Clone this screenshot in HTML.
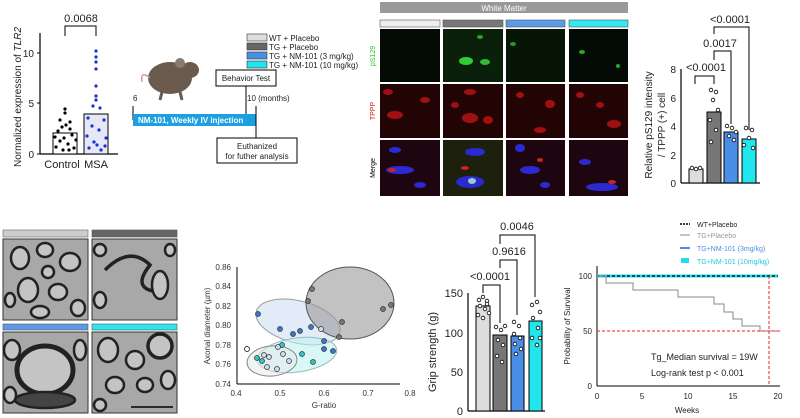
<!DOCTYPE html>
<html><head><meta charset="utf-8"><style>
body{margin:0;background:#fff;}
svg{display:block;font-family:"Liberation Sans",sans-serif;}
</style></head><body>
<svg width="800" height="418" viewBox="0 0 800 418" xmlns="http://www.w3.org/2000/svg">
<!-- Panel 1 TLR2 -->
<g font-size="10" fill="#222">
<line x1="40" y1="33" x2="40" y2="154" stroke="#000" stroke-width="1.2"/>
<line x1="40" y1="154" x2="118" y2="154" stroke="#000" stroke-width="1.2"/>
<line x1="37" y1="154" x2="40" y2="154" stroke="#000"/><line x1="37" y1="103" x2="40" y2="103" stroke="#000"/><line x1="37" y1="53" x2="40" y2="53" stroke="#000"/>
<text x="34" y="158" text-anchor="end">0</text><text x="34" y="107" text-anchor="end">5</text><text x="34" y="57" text-anchor="end">10</text>
<rect x="53" y="133" width="24" height="21" fill="#fff" stroke="#000"/>
<rect x="84" y="114" width="24" height="40" fill="#e6e8f8" stroke="#000"/>
<g fill="#000">
<circle cx="56" cy="147" r="1.6"/><circle cx="60" cy="141" r="1.6"/><circle cx="64" cy="138" r="1.6"/><circle cx="68" cy="144" r="1.6"/><circle cx="72" cy="135" r="1.6"/><circle cx="58" cy="131" r="1.6"/><circle cx="62" cy="127" r="1.6"/><circle cx="66" cy="125" r="1.6"/><circle cx="70" cy="129" r="1.6"/><circle cx="74" cy="148" r="1.6"/><circle cx="65" cy="109" r="1.6"/><circle cx="65" cy="113" r="1.6"/><circle cx="60" cy="120" r="1.6"/><circle cx="70" cy="122" r="1.6"/><circle cx="55" cy="137" r="1.6"/><circle cx="76" cy="140" r="1.6"/><circle cx="63" cy="150" r="1.6"/><circle cx="69" cy="150" r="1.6"/></g>
<g fill="#1a2fd6">
<circle cx="96" cy="51" r="1.6"/><circle cx="96" cy="57" r="1.6"/><circle cx="96" cy="62" r="1.6"/><circle cx="96" cy="69" r="1.6"/><circle cx="96" cy="86" r="1.6"/><circle cx="96" cy="96" r="1.6"/><circle cx="96" cy="100" r="1.6"/><circle cx="93" cy="106" r="1.6"/><circle cx="100" cy="108" r="1.6"/><circle cx="88" cy="118" r="1.6"/><circle cx="104" cy="120" r="1.6"/><circle cx="92" cy="126" r="1.6"/><circle cx="99" cy="130" r="1.6"/><circle cx="87" cy="136" r="1.6"/><circle cx="106" cy="138" r="1.6"/><circle cx="94" cy="142" r="1.6"/><circle cx="89" cy="148" r="1.6"/><circle cx="101" cy="150" r="1.6"/><circle cx="97" cy="145" r="1.6"/><circle cx="105" cy="146" r="1.6"/></g>
<polyline points="65,36 65,26 96,26 96,36" fill="none" stroke="#000"/>
<text x="81" y="22" text-anchor="middle" font-size="11">0.0068</text>
<text x="62" y="168" text-anchor="middle" font-size="11">Control</text>
<text x="96" y="168" text-anchor="middle" font-size="11">MSA</text>
<text transform="translate(21,97) rotate(-90)" text-anchor="middle" font-size="10">Normalized expression of <tspan font-style="italic">TLR2</tspan></text>
</g>
<!-- Timeline -->
<g font-size="8" fill="#222">
<ellipse cx="170" cy="78" rx="22" ry="16" fill="#6b5a4e"/>
<ellipse cx="190" cy="70" rx="9" ry="8" fill="#6b5a4e"/>
<circle cx="180" cy="63" r="5" fill="#8b7a6e"/>
<path d="M150,78 Q140,70 142,82" stroke="#c99" fill="none" stroke-width="1.5"/>
<line x1="162" y1="92" x2="160" y2="100" stroke="#6b5a4e" stroke-width="3"/><line x1="180" y1="92" x2="182" y2="100" stroke="#6b5a4e" stroke-width="3"/>
<rect x="247" y="34" width="20" height="7" fill="#ddd" stroke="#333" stroke-width=".6"/>
<rect x="247" y="43" width="20" height="7" fill="#666" stroke="#333" stroke-width=".6"/>
<rect x="247" y="52" width="20" height="7" fill="#4a90e2" stroke="#333" stroke-width=".6"/>
<rect x="247" y="61" width="20" height="7" fill="#22e3ee" stroke="#333" stroke-width=".6"/>
<text x="269" y="41">WT + Placebo</text><text x="269" y="50">TG + Placebo</text><text x="269" y="59">TG + NM-101 (3 mg/kg)</text><text x="269" y="68">TG + NM-101 (10 mg/kg)</text>
<rect x="216" y="70" width="60" height="16" fill="#fff" stroke="#000"/>
<text x="246" y="81" text-anchor="middle">Behavior Test</text>
<line x1="246" y1="86" x2="246" y2="114" stroke="#000"/>
<line x1="133" y1="106" x2="133" y2="120" stroke="#000"/>
<rect x="133" y="114" width="123" height="12" fill="#1ca0e0"/>
<text x="138" y="123" fill="#fff" font-weight="bold">NM-101, Weekly IV injection</text>
<line x1="256" y1="106" x2="256" y2="138" stroke="#000"/>
<text x="133" y="101">6</text><text x="247" y="101">10 (months)</text>
<rect x="217" y="138" width="80" height="25" fill="#fff" stroke="#000"/>
<text x="257" y="149" text-anchor="middle">Euthanized</text><text x="257" y="159" text-anchor="middle">for futher analysis</text>
</g>
<!-- Microscopy -->
<g>
<rect x="380" y="2" width="248" height="11" fill="#999"/>
<text x="504" y="11" text-anchor="middle" font-size="8" fill="#fff">White Matter</text>
<rect x="380" y="20" width="60" height="7" fill="#eee" stroke="#555" stroke-width=".6"/>
<rect x="443" y="20" width="60" height="7" fill="#777" stroke="#555" stroke-width=".6"/>
<rect x="506" y="20" width="59" height="7" fill="#5a9ae6" stroke="#555" stroke-width=".6"/>
<rect x="569" y="20" width="59" height="7" fill="#33e8ee" stroke="#555" stroke-width=".6"/>
<g fill="#040a04"><rect x="380" y="29" width="60" height="53"/><rect x="443" y="29" width="60" height="53" fill="#0a200a"/><rect x="506" y="29" width="59" height="53" fill="#071507"/><rect x="569" y="29" width="59" height="53"/></g>
<ellipse cx="466" cy="61" rx="7" ry="4" fill="#3c3"/><ellipse cx="485" cy="62" rx="5" ry="3" fill="#3b3"/><ellipse cx="480" cy="37" rx="3" ry="2" fill="#2a2"/>
<ellipse cx="513" cy="44" rx="3" ry="2" fill="#292"/><ellipse cx="582" cy="52" rx="3" ry="2" fill="#2a2"/><ellipse cx="618" cy="66" rx="2" ry="2" fill="#2a2"/>
<g fill="#220404"><rect x="380" y="84" width="60" height="54"/><rect x="443" y="84" width="60" height="54"/><rect x="506" y="84" width="59" height="54"/><rect x="569" y="84" width="59" height="54"/></g>
<g fill="#a01010"><ellipse cx="395" cy="115" rx="8" ry="4"/><ellipse cx="388" cy="92" rx="5" ry="3"/><ellipse cx="425" cy="100" rx="5" ry="3"/><ellipse cx="470" cy="118" rx="8" ry="5"/><ellipse cx="488" cy="120" rx="5" ry="4"/><ellipse cx="470" cy="92" rx="6" ry="3"/><ellipse cx="455" cy="105" rx="4" ry="3"/><ellipse cx="550" cy="104" rx="5" ry="4"/><ellipse cx="540" cy="130" rx="6" ry="3"/><ellipse cx="520" cy="95" rx="4" ry="3"/><ellipse cx="614" cy="124" rx="7" ry="4"/><ellipse cx="600" cy="105" rx="4" ry="3"/><ellipse cx="580" cy="95" rx="4" ry="3"/></g>
<g fill="#1e0610"><rect x="380" y="140" width="60" height="56"/><rect x="443" y="140" width="60" height="56" fill="#1d200c"/><rect x="506" y="140" width="59" height="56"/><rect x="569" y="140" width="59" height="56"/></g>
<g fill="#2a2ad0"><ellipse cx="400" cy="170" rx="14" ry="4"/><ellipse cx="395" cy="150" rx="6" ry="3"/><ellipse cx="420" cy="185" rx="6" ry="3"/><ellipse cx="470" cy="182" rx="14" ry="6"/><ellipse cx="475" cy="152" rx="10" ry="4"/><ellipse cx="530" cy="170" rx="10" ry="4"/><ellipse cx="520" cy="148" rx="5" ry="4"/><ellipse cx="545" cy="185" rx="5" ry="3"/><ellipse cx="602" cy="187" rx="16" ry="4"/><ellipse cx="585" cy="162" rx="6" ry="3"/></g>
<g fill="#c22"><ellipse cx="392" cy="170" rx="4" ry="2"/><ellipse cx="465" cy="168" rx="4" ry="2"/><ellipse cx="540" cy="160" rx="3" ry="2"/><ellipse cx="612" cy="182" rx="4" ry="2"/></g>
<ellipse cx="472" cy="181" rx="4" ry="3" fill="#9cc"/>
<text transform="translate(375,56) rotate(-90)" text-anchor="middle" font-size="7" fill="#2c2">pS129</text>
<text transform="translate(375,111) rotate(-90)" text-anchor="middle" font-size="7" fill="#d22">TPPP</text>
<text transform="translate(375,168) rotate(-90)" text-anchor="middle" font-size="7" fill="#000">Merge</text>
</g>
<!-- pS129 chart -->
<g font-size="10" fill="#222">
<line x1="681" y1="69" x2="681" y2="183" stroke="#000" stroke-width="1.2"/>
<line x1="681" y1="183" x2="760" y2="183" stroke="#000" stroke-width="1.2"/>
<text x="676" y="187" text-anchor="end">0</text><text x="676" y="159" text-anchor="end">2</text><text x="676" y="130" text-anchor="end">4</text><text x="676" y="102" text-anchor="end">6</text><text x="676" y="73" text-anchor="end">8</text>
<rect x="689" y="169" width="14" height="14" fill="#ddd" stroke="#000"/>
<rect x="707" y="112" width="14" height="71" fill="#777" stroke="#000"/>
<rect x="724" y="132" width="14" height="51" fill="#4a8ee8" stroke="#000"/>
<rect x="742" y="139" width="14" height="44" fill="#22e6ee" stroke="#000"/>
<g fill="#fff" stroke="#000" stroke-width=".8"><circle cx="692" cy="168" r="1.8"/><circle cx="696" cy="169" r="1.8"/><circle cx="700" cy="168" r="1.8"/><circle cx="711" cy="90" r="1.8"/><circle cx="716" cy="92" r="1.8"/><circle cx="713" cy="100" r="1.8"/><circle cx="718" cy="110" r="1.8"/><circle cx="710" cy="120" r="1.8"/><circle cx="716" cy="130" r="1.8"/><circle cx="711" cy="142" r="1.8"/><circle cx="727" cy="126" r="1.8"/><circle cx="732" cy="128" r="1.8"/><circle cx="736" cy="132" r="1.8"/><circle cx="729" cy="136" r="1.8"/><circle cx="734" cy="140" r="1.8"/><circle cx="746" cy="128" r="1.8"/><circle cx="752" cy="130" r="1.8"/><circle cx="749" cy="138" r="1.8"/><circle cx="744" cy="145" r="1.8"/><circle cx="753" cy="148" r="1.8"/></g>
<polyline points="695,84 695,76 714,76 714,84" fill="none" stroke="#000"/>
<text x="706" y="71" text-anchor="middle" font-size="11">&lt;0.0001</text>
<polyline points="714,60 714,51 731,51 731,124" fill="none" stroke="#000"/>
<text x="720" y="47" text-anchor="middle" font-size="11">0.0017</text>
<polyline points="714,34 714,27 749,27 749,130" fill="none" stroke="#000"/>
<text x="730" y="23" text-anchor="middle" font-size="11">&lt;0.0001</text>
<text transform="translate(652,125) rotate(-90)" text-anchor="middle" font-size="10">Relative pS129 intensity</text>
<text transform="translate(665,125) rotate(-90)" text-anchor="middle" font-size="10">/ TPPP (+) cell</text>
</g>
<!-- EM images -->
<g>
<rect x="3" y="230" width="85" height="7" fill="#ccc" stroke="#666" stroke-width=".6"/>
<rect x="92" y="230" width="85" height="7" fill="#666" stroke="#555" stroke-width=".6"/>
<rect x="3" y="324" width="85" height="6" fill="#5a9ae6" stroke="#555" stroke-width=".6"/>
<rect x="92" y="324" width="85" height="6" fill="#2ee4ee" stroke="#555" stroke-width=".6"/>
<g fill="#a8a8a8" stroke="#333" stroke-width="1"><rect x="3" y="239" width="85" height="81"/><rect x="92" y="239" width="85" height="81"/><rect x="3" y="332" width="85" height="81"/><rect x="92" y="332" width="85" height="81"/></g>
<g fill="#c4c4c4" stroke="#222" stroke-width="2.5">
<ellipse cx="20" cy="258" rx="9" ry="11"/><ellipse cx="45" cy="250" rx="8" ry="7"/><ellipse cx="70" cy="262" rx="10" ry="9"/><ellipse cx="28" cy="290" rx="10" ry="12"/><ellipse cx="58" cy="292" rx="9" ry="8"/><ellipse cx="78" cy="308" rx="7" ry="8"/><ellipse cx="40" cy="312" rx="9" ry="6"/><ellipse cx="10" cy="300" rx="5" ry="7"/><ellipse cx="48" cy="272" rx="6" ry="6"/>
<path d="M105,270 Q130,245 150,265 Q130,290 160,292" stroke-width="3.5" fill="none"/><ellipse cx="160" cy="285" rx="8" ry="14"/><ellipse cx="100" cy="250" rx="6" ry="6"/><ellipse cx="100" cy="300" rx="6" ry="8"/><ellipse cx="170" cy="250" rx="5" ry="6"/>
<ellipse cx="45" cy="370" rx="28" ry="24" stroke-width="5"/><ellipse cx="45" cy="400" rx="30" ry="8" fill="#444"/><ellipse cx="12" cy="350" rx="8" ry="10"/><ellipse cx="80" cy="350" rx="6" ry="10"/><ellipse cx="10" cy="395" rx="6" ry="8"/>
<ellipse cx="108" cy="350" rx="10" ry="12"/><ellipse cx="135" cy="360" rx="9" ry="9"/><ellipse cx="160" cy="346" rx="12" ry="12" stroke-width="3.5"/><ellipse cx="115" cy="385" rx="9" ry="8"/><ellipse cx="145" cy="385" rx="8" ry="7"/><ellipse cx="168" cy="380" rx="7" ry="9"/><ellipse cx="100" cy="405" rx="6" ry="6"/>
</g>
<line x1="131" y1="407" x2="173" y2="407" stroke="#000" stroke-width="1.5"/>
</g>
<!-- Scatter -->
<g font-size="8" fill="#333">
<line x1="237" y1="267" x2="237" y2="384" stroke="#000"/>
<line x1="237" y1="384" x2="400" y2="384" stroke="#000"/>
<text x="231" y="270" text-anchor="end">0.86</text><text x="231" y="289" text-anchor="end">0.84</text><text x="231" y="309" text-anchor="end">0.82</text><text x="231" y="328" text-anchor="end">0.80</text><text x="231" y="348" text-anchor="end">0.78</text><text x="231" y="367" text-anchor="end">0.76</text><text x="231" y="387" text-anchor="end">0.74</text>
<text x="236" y="396" text-anchor="middle">0.4</text><text x="280" y="396" text-anchor="middle">0.5</text><text x="324" y="396" text-anchor="middle">0.6</text><text x="368" y="396" text-anchor="middle">0.7</text><text x="410" y="396" text-anchor="middle">0.8</text>
<text x="324" y="408" text-anchor="middle">G-ratio</text>
<text transform="translate(210,326) rotate(-90)" text-anchor="middle">Axonal diameter (µm)</text>
<ellipse cx="298" cy="322" rx="43" ry="21" transform="rotate(14 298 322)" fill="#cfdff5" fill-opacity=".6" stroke="#999"/>
<ellipse cx="350" cy="303" rx="44" ry="36" fill="#999" fill-opacity=".6" stroke="#555"/>
<ellipse cx="297" cy="355" rx="40" ry="17" transform="rotate(-8 297 355)" fill="#bff2f2" fill-opacity=".6" stroke="#9bb"/>
<ellipse cx="272" cy="361" rx="25" ry="15" transform="rotate(-5 272 361)" fill="#e8e8e8" fill-opacity=".5" stroke="#888"/>
<g stroke="#333" stroke-width=".7">
<g fill="#3a78d0"><circle cx="258" cy="314" r="2.5"/><circle cx="280" cy="329" r="2.5"/><circle cx="293" cy="334" r="2.5"/><circle cx="300" cy="331" r="2.5"/><circle cx="311" cy="327" r="2.5"/><circle cx="324" cy="341" r="2.5"/><circle cx="324" cy="349" r="2.5"/><circle cx="333" cy="351" r="2.5"/></g>
<g fill="#2cc8c8"><circle cx="257" cy="358" r="2.5"/><circle cx="262" cy="361" r="2.5"/><circle cx="282" cy="345" r="2.5"/><circle cx="302" cy="354" r="2.5"/><circle cx="313" cy="362" r="2.5"/></g>
<g fill="#cde"><circle cx="264" cy="355" r="2.5"/><circle cx="269" cy="357" r="2.5"/><circle cx="278" cy="347" r="2.5"/><circle cx="283" cy="354" r="2.5"/><circle cx="289" cy="361" r="2.5"/><circle cx="267" cy="367" r="2.5"/><circle cx="277" cy="369" r="2.5"/><circle cx="321" cy="329" r="2.5"/></g>
<g fill="#777"><circle cx="312" cy="289" r="2.5"/><circle cx="308" cy="301" r="2.5"/><circle cx="342" cy="322" r="2.5"/><circle cx="339" cy="337" r="2.5"/><circle cx="383" cy="309" r="2.5"/><circle cx="391" cy="305" r="2.5"/></g>
<circle cx="247" cy="349" r="2.5" fill="#fff" stroke="#000"/>
</g>
</g>
<!-- Grip -->
<g font-size="11" fill="#222">
<line x1="468" y1="293" x2="468" y2="411" stroke="#000" stroke-width="1.2"/>
<line x1="468" y1="411" x2="545" y2="411" stroke="#000" stroke-width="1.2"/>
<text x="463" y="415" text-anchor="end">0</text><text x="463" y="376" text-anchor="end">50</text><text x="463" y="337" text-anchor="end">100</text><text x="463" y="297" text-anchor="end">150</text>
<rect x="476" y="306" width="14" height="105" fill="#ddd" stroke="#000"/>
<rect x="493" y="335" width="14" height="76" fill="#777" stroke="#000"/>
<rect x="511" y="336" width="13" height="75" fill="#4a8ee8" stroke="#000"/>
<rect x="529" y="321" width="13" height="90" fill="#22e6ee" stroke="#000"/>
<g fill="#fff" stroke="#000" stroke-width=".8">
<circle cx="479" cy="300" r="1.8"/><circle cx="483" cy="297" r="1.8"/><circle cx="487" cy="301" r="1.8"/><circle cx="480" cy="306" r="1.8"/><circle cx="485" cy="309" r="1.8"/><circle cx="489" cy="313" r="1.8"/><circle cx="478" cy="315" r="1.8"/><circle cx="483" cy="318" r="1.8"/><circle cx="487" cy="304" r="1.8"/>
<circle cx="496" cy="327" r="1.8"/><circle cx="501" cy="330" r="1.8"/><circle cx="505" cy="326" r="1.8"/><circle cx="498" cy="340" r="1.8"/><circle cx="503" cy="345" r="1.8"/><circle cx="497" cy="356" r="1.8"/><circle cx="502" cy="362" r="1.8"/>
<circle cx="514" cy="322" r="1.8"/><circle cx="519" cy="326" r="1.8"/><circle cx="514" cy="334" r="1.8"/><circle cx="520" cy="338" r="1.8"/><circle cx="515" cy="344" r="1.8"/><circle cx="521" cy="349" r="1.8"/><circle cx="516" cy="354" r="1.8"/>
<circle cx="532" cy="305" r="1.8"/><circle cx="537" cy="302" r="1.8"/><circle cx="540" cy="312" r="1.8"/><circle cx="533" cy="318" r="1.8"/><circle cx="538" cy="328" r="1.8"/><circle cx="532" cy="338" r="1.8"/><circle cx="537" cy="345" r="1.8"/><circle cx="540" cy="338" r="1.8"/></g>
<polyline points="483,293 483,285 500,285 500,323" fill="none" stroke="#000"/>
<text x="490" y="280" text-anchor="middle">&lt;0.0001</text>
<polyline points="500,268 500,260 517,260 517,315" fill="none" stroke="#000"/>
<text x="509" y="255" text-anchor="middle">0.9616</text>
<polyline points="500,244 500,235 535,235 535,297" fill="none" stroke="#000"/>
<text x="517" y="230" text-anchor="middle">0.0046</text>
<text transform="translate(436,352) rotate(-90)" text-anchor="middle">Grip strength (g)</text>
</g>
<!-- Survival -->
<g font-size="8" fill="#222">
<line x1="597" y1="266" x2="597" y2="386" stroke="#000"/>
<line x1="597" y1="386" x2="780" y2="386" stroke="#000"/>
<text x="592" y="389" text-anchor="end">0</text><text x="592" y="334" text-anchor="end">50</text><text x="592" y="279" text-anchor="end">100</text>
<text x="597" y="399" text-anchor="middle">0</text><text x="642" y="399" text-anchor="middle">5</text><text x="688" y="399" text-anchor="middle">10</text><text x="733" y="399" text-anchor="middle">15</text><text x="778" y="399" text-anchor="middle">20</text>
<text x="687" y="413" text-anchor="middle">Weeks</text>
<text transform="translate(570,326) rotate(-90)" text-anchor="middle">Probability of Survival</text>
<line x1="597" y1="276" x2="778" y2="276" stroke="#22dcee" stroke-width="3"/>
<line x1="597" y1="276" x2="778" y2="276" stroke="#000" stroke-dasharray="3,2" stroke-width="1.2"/>
<polyline points="597,276 606,276 606,283 633,283 633,290 678,290 678,297 714,297 714,304 724,304 724,312 733,312 733,319 742,319 742,326 760,326 760,331 778,331" fill="none" stroke="#888"/>
<line x1="597" y1="331" x2="780" y2="331" stroke="#e22" stroke-dasharray="3,2"/>
<line x1="769" y1="276" x2="769" y2="386" stroke="#e22" stroke-dasharray="3,2"/>
<line x1="680" y1="224" x2="690" y2="224" stroke="#000" stroke-dasharray="2,1" stroke-width="1.5"/>
<line x1="680" y1="235" x2="690" y2="235" stroke="#888"/>
<line x1="680" y1="248" x2="690" y2="248" stroke="#4a8ee8" stroke-width="2"/>
<rect x="681" y="258" width="8" height="5" fill="#22dcee"/>
<text x="697" y="227" font-size="7">WT+Placebo</text>
<text x="697" y="238" font-size="7" fill="#999">TG+Placebo</text>
<text x="697" y="251" font-size="7" fill="#4a8ee8">TG+NM-101 (3mg/kg)</text>
<text x="697" y="264" font-size="7" fill="#22c8e0">TG+NM-101 (10mg/kg)</text>
<text x="651" y="360" font-size="9">Tg_Median survival = 19W</text>
<text x="651" y="376" font-size="9">Log-rank test p &lt; 0.001</text>
</g>
</svg>
</body></html>
